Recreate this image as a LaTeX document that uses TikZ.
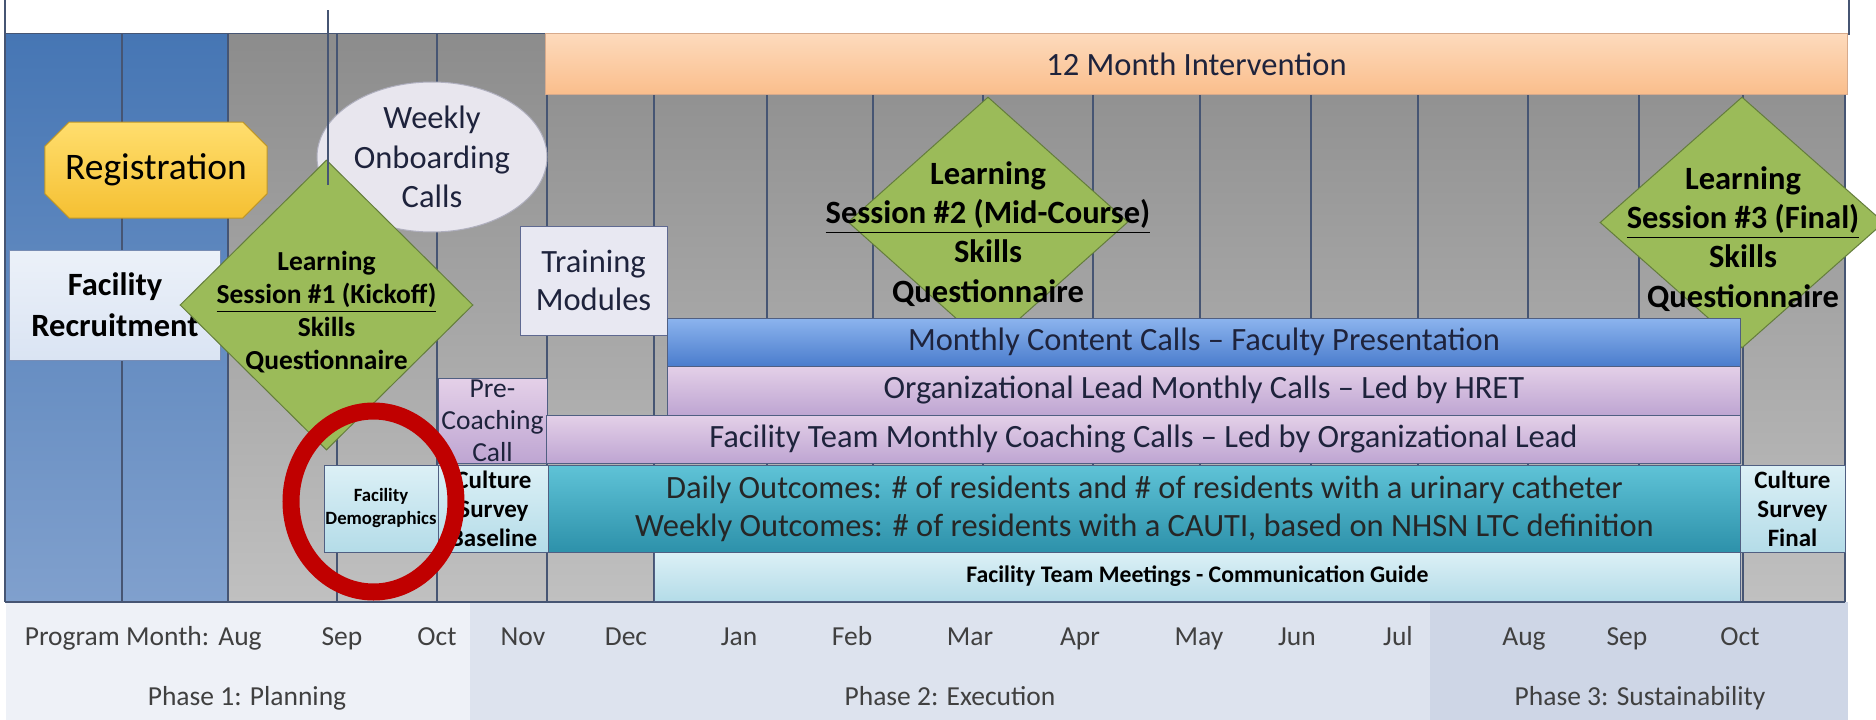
\documentclass[tikz,border=0pt]{standalone}
\usepackage{fontspec}
\setmainfont{Carlito}
\usetikzlibrary{shapes.geometric}
\usetikzlibrary{shapes.misc}
\definecolor{bluetop}{RGB}{70,118,180}
\definecolor{bluebot}{RGB}{128,160,205}
\definecolor{graytop}{RGB}{140,140,140}
\definecolor{graybot}{RGB}{192,192,192}
\definecolor{gridline}{RGB}{70,85,115}
\definecolor{orangetop}{RGB}{253,218,188}
\definecolor{orangebot}{RGB}{250,190,140}
\definecolor{orangeline}{RGB}{215,170,140}
\definecolor{yellowtop}{RGB}{255,222,110}
\definecolor{yellowbot}{RGB}{245,192,50}
\definecolor{goldline}{RGB}{190,150,40}
\definecolor{recruittop}{RGB}{236,241,249}
\definecolor{recruitbot}{RGB}{218,228,243}
\definecolor{recruitline}{RGB}{120,140,180}
\definecolor{onboardfill}{RGB}{232,230,238}
\definecolor{onboardline}{RGB}{175,175,190}
\definecolor{sessiongreen}{RGB}{155,187,89}
\definecolor{greenline}{RGB}{100,125,60}
\definecolor{trainfill}{RGB}{232,232,242}
\definecolor{trainline}{RGB}{95,105,145}
\definecolor{contenttop}{RGB}{140,180,238}
\definecolor{contentbot}{RGB}{75,125,205}
\definecolor{purpletop}{RGB}{228,208,232}
\definecolor{purplebot}{RGB}{190,165,210}
\definecolor{tealtop}{RGB}{95,195,215}
\definecolor{tealbot}{RGB}{45,145,170}
\definecolor{cyantop}{RGB}{220,240,246}
\definecolor{cyanbot}{RGB}{180,220,232}
\definecolor{barline}{RGB}{80,95,130}
\definecolor{phaseone}{RGB}{238,241,247}
\definecolor{phasetwo}{RGB}{221,227,238}
\definecolor{phasethree}{RGB}{206,214,230}
\definecolor{circlered}{RGB}{192,0,0}
\definecolor{labeltext}{RGB}{64,64,64}
\definecolor{bartext}{RGB}{30,35,60}

\begin{document}
\begin{tikzpicture}
    [x=0.4pt, y=-0.4pt,
    bar/.style={draw=barline, inner sep=0pt, text=bartext, font=\fontsize{13}{15.2}\selectfont},
    box/.style={inner sep=0pt, align=center, text=bartext},
    survey/.style={draw=barline, inner sep=0pt, align=center, top color=cyantop, bottom color=cyanbot, font=\bfseries\fontsize{10}{11.6}\selectfont},
    session/.style={diamond, draw=greenline, fill=sessiongreen, inner sep=0pt},
    sessiontext/.style={align=center, text=black, font=\bfseries\fontsize{13}{15.7}\selectfont},
    month/.style={anchor=base, text=labeltext, font=\fontsize{11}{13}\selectfont},
    colline/.style={draw=gridline, line width=0.8pt}]
     \fill[white] (0,0) rectangle (1876,720);
     \useasboundingbox (0,0) rectangle (1876,720);
     \draw[colline] (5,0) -- (5,34) -- (1849,34) -- (1849,0);
     % phase bands
     \fill[phaseone] (6,602) rectangle (470,720);
     \fill[phasetwo] (470,602) rectangle (1430,720);
     \fill[phasethree] (1430,602) rectangle (1848,720);
     % month columns
     \shade[top color=bluetop, bottom color=bluebot] (5,34) rectangle (228,602);
     \shade[top color=graytop, bottom color=graybot] (228,34) rectangle (1845,602);
     \foreach \x in {5,122,228,337,437,547,654,767,873,983,1093,1200,1311,1418,1528,1639,1743,1845}
        \draw[colline] (\x,34) -- (\x,602);
     \draw[colline] (5,602) -- (1845,602);
     \node[bar, draw=orangeline, top color=orangetop, bottom color=orangebot, minimum width=520.4pt, minimum height=24pt] (intervention) at (1196.5,64) {12 Month Intervention};
     \node[ellipse, draw=onboardline, fill=onboardfill, minimum width=92pt, minimum height=60pt, inner sep=0pt] (onboarding) at (432,157) {};
     \node[box, font=\fontsize{13}{15.8}\selectfont] (onboardtext) at (onboarding.center) {Weekly\\Onboarding\\Calls};
     \node[chamfered rectangle, chamfered rectangle xsep=12pt, draw=goldline, top color=yellowtop, bottom color=yellowbot, minimum width=88.8pt, minimum height=38.4pt, inner sep=0pt, font=\fontsize{15}{18}\selectfont] (registration) at (156,170) {Registration};
     \node[box, draw=recruitline, top color=recruittop, bottom color=recruitbot, minimum width=84pt, minimum height=44pt, text=black, font=\bfseries\fontsize{13}{16.4}\selectfont] (recruitment) at (115,305) {Facility\\Recruitment};
     \node[session, minimum width=117.2pt, minimum height=116pt] (kickoff) at (326.5,305) {};
     \node[sessiontext, font=\bfseries\fontsize{11}{13.2}\selectfont] (kickofftext) at (326.5,312) {Learning\\\underline{Session \#1 (Kickoff)}\\Skills\\Questionnaire};
     \draw[colline] (328,10) -- (328,185);
     \node[box, draw=trainline, fill=trainfill, minimum width=58.8pt, minimum height=43.6pt, font=\fontsize{13}{15.2}\selectfont] (training) at (593.5,280.5) {Training\\Modules};
     \node[session, minimum width=112pt, minimum height=100pt] (midcourse) at (988,222) {};
     \node[session, minimum width=113.6pt, minimum height=100.4pt] (final) at (1742,222.5) {};
     \node[sessiontext] (midcoursetext) at (988,234) {Learning\\\underline{Session \#2 (Mid-Course)}\\Skills\\Questionnaire};
     \node[sessiontext] (finaltext) at (1743,239) {Learning\\\underline{Session \#3 (Final)}\\Skills\\Questionnaire};
     % monthly calls
     \node[bar, top color=contenttop, bottom color=contentbot, minimum width=428.8pt, minimum height=19.2pt] (content) at (1204,342) {Monthly Content Calls -- Faculty Presentation};
     \node[bar, top color=purpletop, bottom color=purplebot, minimum width=428.8pt, minimum height=19.6pt] (orglead) at (1204,390.5) {Organizational Lead Monthly Calls -- Led by HRET};
     \node[box, draw=barline, top color=purpletop, bottom color=purplebot, minimum width=43.6pt, minimum height=34pt, font=\fontsize{11}{12.8}\selectfont] (precoaching) at (492.5,421) {Pre-\\Coaching\\Call};
     \node[bar, top color=purpletop, bottom color=purplebot, minimum width=477.2pt, minimum height=19.2pt] (coaching) at (1143.5,439) {Facility Team Monthly Coaching Calls -- Led by Organizational Lead};
     % surveys and outcomes
     \node[survey, font=\bfseries\fontsize{7.5}{9.2}\selectfont, minimum width=45.6pt, minimum height=34.8pt] (demographics) at (381,508.5) {Facility\\Demographics};
     \node[survey, minimum width=44.4pt, minimum height=34.8pt] (baseline) at (493.5,509) {Culture\\Survey\\Baseline};
     \node[bar, top color=tealtop, bottom color=tealbot, align=center, text=black!85, minimum width=476.4pt, minimum height=34.8pt] (outcomes) at (1144.5,508.5) {Daily Outcomes: \# of residents and \# of residents with a urinary catheter\\Weekly Outcomes: \# of residents with a CAUTI, based on NHSN LTC definition};
     \node[survey, minimum width=42pt, minimum height=34.8pt] (finalsurvey) at (1792.5,508.5) {Culture\\Survey\\Final};
     \node[bar, top color=cyantop, bottom color=cyanbot, minimum width=434pt, minimum height=19.6pt, text=black, font=\bfseries\fontsize{9.5}{11}\selectfont] (meetings) at (1197.5,576.5) {Facility Team Meetings - Communication Guide};
     \node[ellipse, draw=circlered, line width=6.8pt, minimum width=66pt, minimum height=72.4pt, inner sep=0pt] (highlight) at (373.5,501.5) {};
     % month labels
     \node[month, anchor=base west] (programmonth) at (16,645) {Program Month:};
     \foreach \m/\x [count=\i] in {Aug/240, Sep/342, Oct/437, Nov/523, Dec/626, Jan/739, Feb/852, Mar/970, Apr/1080, May/1199, Jun/1297, Jul/1398, Aug/1524, Sep/1627, Oct/1740}
        \node[month] (month\i) at (\x,645) {\m};
     \node[month] (planning) at (247,705) {Phase 1: Planning};
     \node[month] (execution) at (950,705) {Phase 2: Execution};
     \node[month] (sustainability) at (1640,705) {Phase 3: Sustainability};
\end{tikzpicture}
\end{document}
